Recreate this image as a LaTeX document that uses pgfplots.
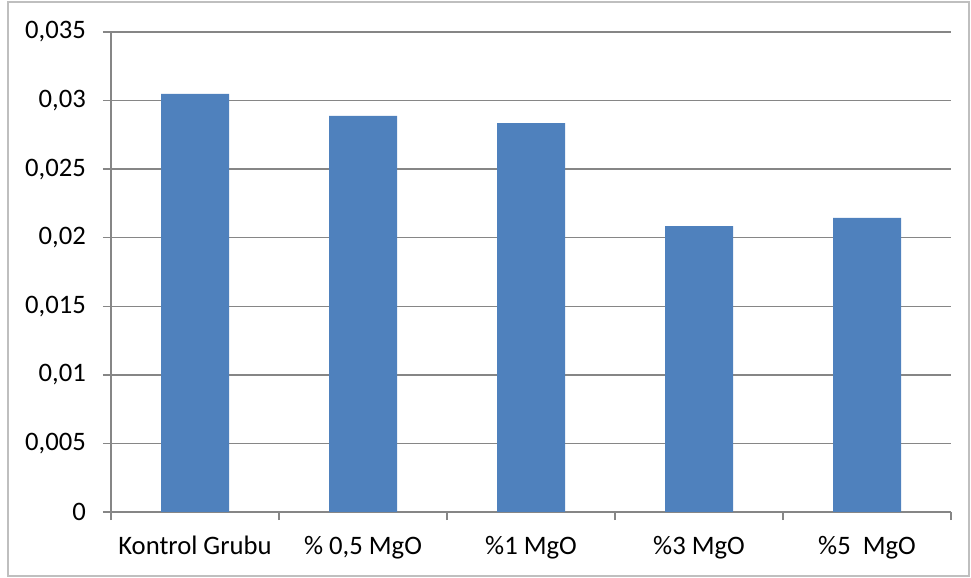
\documentclass[border=0pt]{standalone}
\usepackage{fontspec}
\setmainfont{Carlito}
\usepackage{pgfplots}
\pgfplotsset{compat=1.18}
\definecolor{barblue}{HTML}{4F81BD}
\definecolor{gridgray}{HTML}{868686}
\definecolor{framegray}{HTML}{BFBFBF}
\begin{document}
\fontsize{20}{24}\selectfont
\begin{tikzpicture}[x=1pt,y=1pt]
% page area and outer chart frame
\useasboundingbox (0,0) rectangle (728.25,433.5);
\draw[framegray, line width=1.2pt] (6,1.5) rectangle (726.75,432);
\begin{axis}[
  at={(83.25pt,49.5pt)}, anchor=south west,
  scale only axis, width=630pt, height=360pt,
  xmin=-0.5, xmax=4.5, ymin=0, ymax=0.035,
  axis lines*=left,
  axis line style={gridgray, line width=1pt},
  ytick={0,0.005,0.01,0.015,0.02,0.025,0.03,0.035},
  ymajorgrids, grid style={gridgray, line width=1pt},
  scaled y ticks=false,
  /pgf/number format/fixed,
  /pgf/number format/precision=3,
  /pgf/number format/use comma,
  /pgf/number format/assume math mode=true,
  yticklabel style={font=\fontsize{20}{24}\selectfont, xshift=-6pt},
  tick style={gridgray, line width=1pt},
  tick align=outside, major tick length=6pt,
  % category boundaries carry the tick marks
  xtick={-0.5,0.5,1.5,2.5,3.5,4.5},
  xticklabels={},
  % category names sit at the bar centres
  extra x ticks={0,1,2,3,4},
  extra x tick labels={Kontrol Grubu, {\% 0,5 MgO}, \%1 MgO, \%3 MgO, {\%5\ \ MgO}},
  extra x tick style={major tick length=0pt, grid=none,
    ticklabel style={font=\fontsize{20}{24}\selectfont, yshift=-11pt}},
  ybar, bar width=51pt,
  clip=false,
]
\addplot[fill=barblue, draw=none] coordinates {
  (0,0.03048) (1,0.02888) (2,0.02836) (3,0.02085) (4,0.02144)
};
\end{axis}
\end{tikzpicture}
\end{document}
